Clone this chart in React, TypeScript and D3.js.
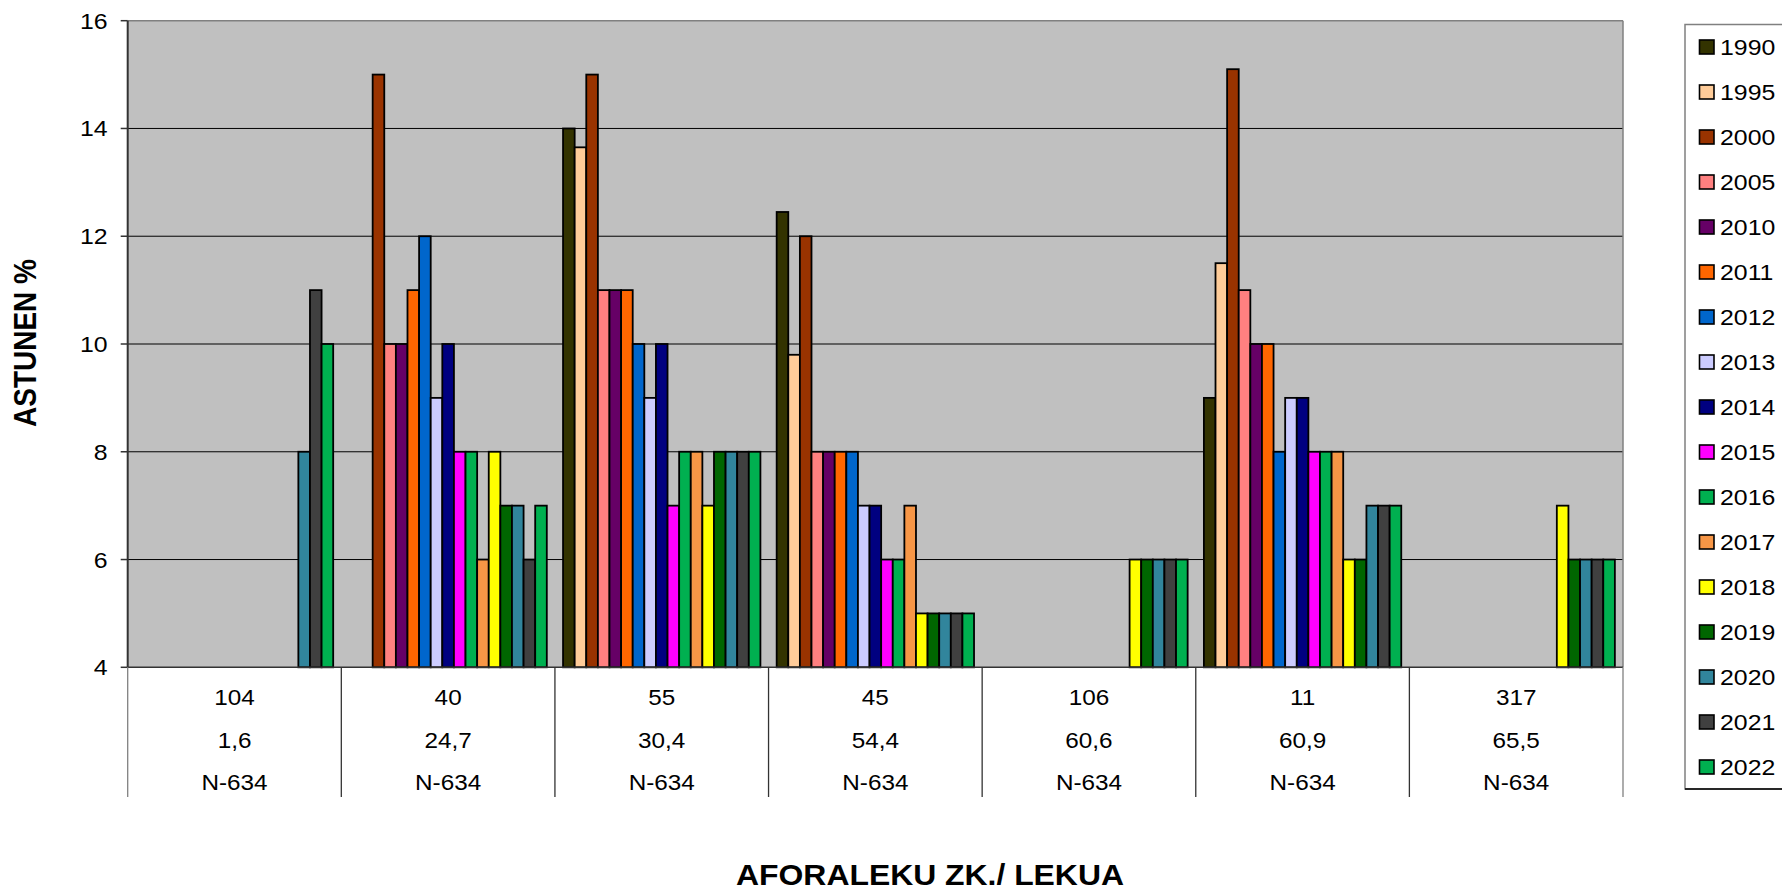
import React from "react";
import * as d3 from "d3";

const years = ["1990","1995","2000","2005","2010","2011","2012","2013","2014","2015","2016","2017","2018","2019","2020","2021","2022"];
const yearColors = ["#333300","#FFCC99","#993300","#FF8080","#660066","#FF6600","#0066CC","#CCCCFF","#000080","#FF00FF","#00B050","#F79646","#FFFF00","#006600","#31859C","#404040","#00B050"];

const stationIds = ["104","40","55","45","106","11","317"];
const kmPoints = ["1,6","24,7","30,4","54,4","60,6","60,9","65,5"];
const roads = ["N-634","N-634","N-634","N-634","N-634","N-634","N-634"];

const v1990 = [null, null, 14, 12.45, null, 9, null];
const v1995 = [null, null, 13.65, 9.8, null, 11.5, null];
const v2000 = [null, 15, 15, 12, null, 15.1, null];
const v2005 = [null, 10, 11, 8, null, 11, null];
const v2010 = [null, 10, 11, 8, null, 10, null];
const v2011 = [null, 11, 11, 8, null, 10, null];
const v2012 = [null, 12, 10, 8, null, 8, null];
const v2013 = [null, 9, 9, 7, null, 9, null];
const v2014 = [null, 10, 10, 7, null, 9, null];
const v2015 = [null, 8, 7, 6, null, 8, null];
const v2016 = [null, 8, 8, 6, null, 8, null];
const v2017 = [null, 6, 8, 7, null, 8, null];
const v2018 = [null, 8, 7, 5, 6, 6, 7];
const v2019 = [null, 7, 8, 5, 6, 6, 6];
const v2020 = [8, 7, 8, 5, 6, 7, 6];
const v2021 = [11, 6, 8, 5, 6, 7, 6];
const v2022 = [10, 7, 8, 5, 6, 7, 6];

const seriesValues = [v1990,v1995,v2000,v2005,v2010,v2011,v2012,v2013,v2014,v2015,v2016,v2017,v2018,v2019,v2020,v2021,v2022];

const yTicks = [4, 6, 8, 10, 12, 14, 16];

const W = 1782, H = 894;
const plotL = 127.7, plotR = 1623, plotT = 20.7, plotB = 667.3;
const FONT = "'Liberation Sans', Arial, sans-serif";
const SX = 1.13;

export default function App() {
  const x0 = d3.scaleBand<string>().domain(stationIds).range([plotL, plotR]).padding(0);
  const x1 = d3.scaleBand<string>().domain(years).range([0, x0.bandwidth()]).paddingInner(0).paddingOuter(0.7);
  const y = d3.scaleLinear().domain([4, 16]).range([plotB, plotT]);

  const bars: JSX.Element[] = [];
  seriesValues.forEach((vals, si) => {
    vals.forEach((v, ci) => {
      if (v == null) return;
      const bx = (x0(stationIds[ci]) as number) + (x1(years[si]) as number);
      bars.push(
        <rect key={`b-${si}-${ci}`} x={bx} y={y(v)} width={x1.bandwidth()} height={y(4) - y(v)}
          fill={yearColors[si]} stroke="#000" strokeWidth={1.8} />
      );
    });
  });

  const boundaries = stationIds.map((s) => x0(s) as number).concat([plotR]);
  const rowsY = [705, 748, 790];
  const rowsTxt = [stationIds, kmPoints, roads];

  return (
    <svg width={W} height={H} style={{ position: "absolute", left: 0, top: 0, display: "block", background: "#fff" }} fontFamily={FONT}>
      <rect x={plotL} y={plotT} width={plotR - plotL} height={plotB - plotT} fill="#C0C0C0" />
      {yTicks.filter((t) => t > 4 && t < 16).map((t) => (
        <line key={`g${t}`} x1={plotL} x2={plotR} y1={y(t)} y2={y(t)} stroke="#000" strokeWidth={1} />
      ))}
      <line x1={plotL} x2={plotR} y1={plotT} y2={plotT} stroke="#808080" strokeWidth={1.5} />
      <line x1={plotR} x2={plotR} y1={plotT} y2={plotB} stroke="#808080" strokeWidth={1.5} />
      {bars}
      <line x1={plotL} x2={plotL} y1={plotT} y2={plotB} stroke="#333" strokeWidth={2} />
      <line x1={plotL} x2={plotR} y1={plotB} y2={plotB} stroke="#333" strokeWidth={1.5} />
      {yTicks.map((t) => (
        <g key={`t${t}`}>
          <line x1={plotL - 7} x2={plotL} y1={y(t)} y2={y(t)} stroke="#333" strokeWidth={1.5} />
          <text transform={`translate(${plotL - 20},${y(t) + 8}) scale(${SX},1)`} textAnchor="end" fontSize={22} fill="#000">{t}</text>
        </g>
      ))}
      {boundaries.map((bx, i) => (
        <line key={`v${i}`} x1={bx} x2={bx} y1={plotB} y2={797} stroke={i === 0 || i === boundaries.length - 1 ? "#808080" : "#333"} strokeWidth={1.3} />
      ))}
      {rowsTxt.map((row, ri) => row.map((lbl, ci) => (
        <text key={`r${ri}-${ci}`} transform={`translate(${(x0(stationIds[ci]) as number) + x0.bandwidth() / 2},${rowsY[ri]}) scale(${SX},1)`}
          textAnchor="middle" fontSize={21.5} fill="#000">{lbl}</text>
      )))}
      <text transform={`translate(930,885) scale(1.1,1)`} textAnchor="middle" fontSize={29} fontWeight="bold" fill="#000">AFORALEKU ZK./ LEKUA</text>
      <text transform={`translate(36,343) rotate(-90) scale(1,1.1)`} textAnchor="middle" fontSize={28} fontWeight="bold" fill="#000">ASTUNEN %</text>
      <rect x={1685} y={24.5} width={130} height={764.5} fill="#fff" stroke="#808080" strokeWidth={1.5} />
      <line x1={1685} x2={1782} y1={789} y2={789} stroke="#000" strokeWidth={1.5} />
      {years.map((yr, i) => {
        const cy = 47 + i * 45;
        return (
          <g key={`l${yr}`}>
            <rect x={1699.5} y={cy - 7} width={14.5} height={14} fill={yearColors[i]} stroke="#000" strokeWidth={1.6} />
            <text transform={`translate(1720,${cy + 8}) scale(${SX},1)`} fontSize={22} fill="#000">{yr}</text>
          </g>
        );
      })}
    </svg>
  );
}
